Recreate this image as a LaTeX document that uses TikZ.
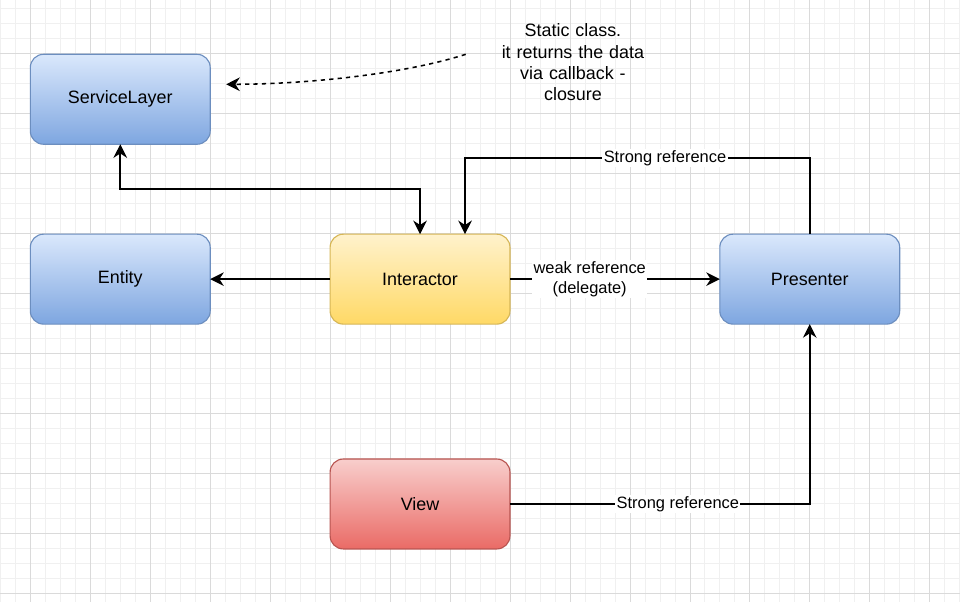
\documentclass[tikz,border=0pt]{standalone}
\usepackage{fontspec}
\setmainfont{Liberation Sans}
\usepackage{xcolor}
\usepackage{tikz}
\usetikzlibrary{arrows.meta, positioning, calc}
\definecolor{bluetop}{HTML}{DAE8FC}
\definecolor{bluebottom}{HTML}{7EA6E0}
\definecolor{bluestroke}{HTML}{6C8EBF}
\definecolor{yellowtop}{HTML}{FFF2CC}
\definecolor{yellowbottom}{HTML}{FFD966}
\definecolor{yellowstroke}{HTML}{D6B656}
\definecolor{redtop}{HTML}{F8CECC}
\definecolor{redbottom}{HTML}{EA6B66}
\definecolor{redstroke}{HTML}{B85450}
\definecolor{gridminor}{HTML}{F0F0F0}
\definecolor{gridmajor}{HTML}{DADADA}

\begin{document}
\begin{tikzpicture}[
        layer/.style={rectangle, rounded corners=0.33cm, line width=0.8pt, outer sep=0pt, minimum width=4.5cm, minimum height=2.25cm, align=center, font=\fontsize{12.75}{15}\selectfont},
        bluelayer/.style={layer, draw=bluestroke, top color=bluetop, bottom color=bluebottom},
        yellowlayer/.style={layer, draw=yellowstroke, top color=yellowtop, bottom color=yellowbottom},
        redlayer/.style={layer, draw=redstroke, top color=redtop, bottom color=redbottom},
        arrow/.style={line width=1.1pt, -{Stealth[length=3.4mm, width=3.4mm, inset=1.1mm]}},
        edgelabel/.style={fill=white, inner sep=1pt, align=center, font=\fontsize{11.7}{14.5}\selectfont}
    ]
        % Background grid
        \fill[white] (0,0) rectangle (24,-15.05);
        \foreach \x in {0,0.375,...,24} \draw[gridminor, line width=0.5pt] (\x,0) -- (\x,-15.05);
        \foreach \y in {0.2,0.575,...,15.05} \draw[gridminor, line width=0.5pt] (0,-\y) -- (24,-\y);
        \foreach \x in {0.75,2.25,...,24} \draw[gridmajor, line width=0.5pt] (\x,0) -- (\x,-15.05);
        \foreach \y in {1.325,2.825,...,15.05} \draw[gridmajor, line width=0.5pt] (0,-\y) -- (24,-\y);
        \useasboundingbox (0,0) rectangle (24,-15.05);

        % Layers
        \node (service) [bluelayer] at (3,-2.475) {ServiceLayer};
        \node (entity) [bluelayer, below=2.25cm of service] {Entity};
        \node (interactor) [yellowlayer, right=3cm of entity] {Interactor};
        \node (presenter) [bluelayer, right=5.25cm of interactor] {Presenter};
        \node (view) [redlayer, below=3.375cm of interactor] {View};

        % Note
        \node (note) [align=center, font=\fontsize{12.75}{15.1}\selectfont, text width=5.35cm, inner sep=0pt] at (14.325,-1.55) {Static class.\\it returns the data\\via callback -\\closure};
        \coordinate (notetip) at (5.65,-2.1);

        % Arrows
        \draw [arrow, <->, >={Stealth[length=3.4mm, width=3.4mm, inset=1.1mm]}] (service.south) -- ++(0,-1.125) -| (interactor.north);
        \draw [arrow] (interactor) -- (entity);
        \draw [arrow] (interactor) -- node[edgelabel, pos=0.38] {weak reference\\(delegate)} (presenter);
        \draw [arrow] (presenter.north) -- ++(0,1.9) -| node[edgelabel, pos=0.21] {Strong reference} ([xshift=1.125cm]interactor.north);
        \draw [arrow] (view.east) -| node[edgelabel, pos=0.28] {Strong reference} (presenter.south);
        \draw [arrow, dash pattern=on 3pt off 3pt] ($(note.west)+(0,0.2)$) .. controls (10,-1.875) and (7.5,-2.1) .. (notetip);
    \end{tikzpicture}
\end{document}
